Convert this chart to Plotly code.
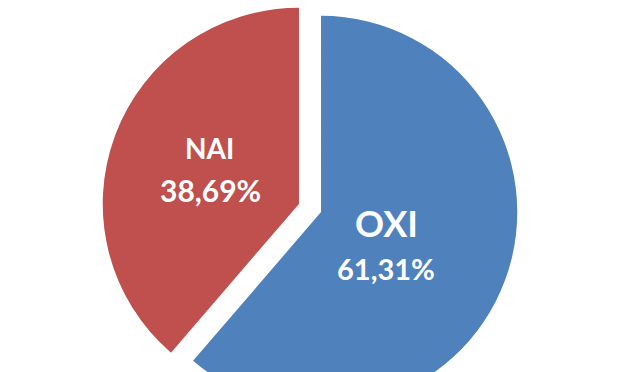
import math
import plotly.graph_objects as go

# ---- data ----
labels = ["OXI", "NAI"]
values = [61.31, 38.69]          # percent
colors = ["#4F81BD", "#C0504D"]

# ---- style ----
W, H = 620, 416
PULL = 0.06
FONT = "Lato"
label_sizes = [36, 28]
pct_sizes = [29, 30]
# text offsets (px) relative to each pulled slice's centre, for a 200px radius
label_off = [(67, 11), (-91.5, -56.5)]
pct_off = [(66, 57), (-90, -14.5)]

pct_text = [f"{v:.2f}".replace(".", ",") + "%" for v in values]

fig = go.Figure(go.Pie(
    labels=labels,
    values=values,
    sort=False,
    direction="clockwise",
    rotation=0,
    pull=[PULL] * len(values),
    marker=dict(colors=colors, line=dict(width=0)),
    textinfo="none",
    hoverinfo="skip",
    showlegend=False,
    domain=dict(x=[0, 1], y=[0, 1]),
))

# geometry of the pie as plotly lays it out (used only to anchor labels)
r = (H / 2) / (1 + PULL)
cx, cy = W / 2, H / 2
total = sum(values)
start = 0.0
annotations = []
for i, v in enumerate(values):
    mid = (start + v / 2) / total * 2 * math.pi
    start += v
    sx = cx + PULL * r * math.sin(mid)
    sy = cy - PULL * r * math.cos(mid)
    k = r / 200.0
    for txt, off, size in ((labels[i], label_off[i], label_sizes[i]),
                           (pct_text[i], pct_off[i], pct_sizes[i])):
        px = sx + off[0] * k
        py = sy + off[1] * k
        annotations.append(dict(
            text=f"<b>{txt}</b>", x=px / W, y=1 - py / H,
            xref="paper", yref="paper", xanchor="center", yanchor="middle",
            showarrow=False,
            font=dict(family=FONT, size=size, color="white"),
        ))

fig.update_layout(
    width=W, height=H,
    margin=dict(l=0, r=0, t=0, b=0),
    paper_bgcolor="white",
    plot_bgcolor="white",
    annotations=annotations,
)

fig.write_html("out.html")
